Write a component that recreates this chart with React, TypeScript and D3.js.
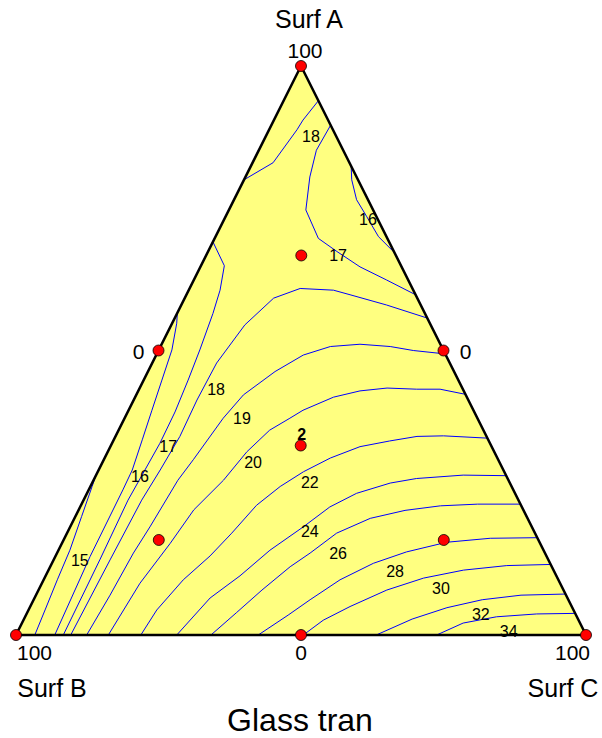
import React, { useEffect, useRef } from 'react';
import * as d3 from 'd3';

// Mixture components: A (top), B (bottom left), C (bottom right).
// Contour points are [A %, C %]; B = 100 - A - C.
const contour15 = [[28.1, 0], [26.1, 0.3], [20.8, 1.1], [14.9, 2.0], [9.7, 2.4], [4.4, 2.9], [0, 3.3]];
const contour16Loop = [[82.4, 17.6], [80.0, 18.9], [76.5, 21.5], [73.5, 24.8], [70.0, 28.6], [67.2, 32.8]];
const contour16Left = [[56.6, 0], [54.8, 0.8], [50.1, 2.3], [44.8, 3.2], [39.5, 4.1], [34.3, 5.0], [29.0, 5.9], [25.5, 6.0], [13.8, 6.1], [0, 6.8]];
const contour17Top = [[89.6, 10.4], [85.2, 10.1], [80.5, 11.3], [74.7, 13.5], [69.7, 18.2], [67.4, 22.6], [64.7, 28.0], [62.4, 33.8], [59.8, 40.2]];
const contour17Left = [[69.1, 0], [64.9, 4.1], [60.6, 5.5], [56.5, 6.3], [50.1, 7.2], [44.8, 7.8], [39.2, 8.3], [33.7, 8.4], [23.7, 7.8], [13.2, 8.1], [0, 8.3]];
const contour18Top = [[93.9, 6.1], [90.5, 5.1], [88.8, 4.9], [83.0, 3.6], [80.0, 0]];
const contour18Low = [[55.7, 44.3], [58.0, 36.0], [59.8, 28.7], [60.6, 25.4], [60.9, 19.4], [59.2, 15.6], [54.5, 12.9], [47.8, 11.3], [41.3, 11.1], [34.9, 11.3], [29.0, 10.8], [23.7, 10.2], [13.2, 9.9], [0, 9.6]];
const contour19 = [[49.4, 50.6], [50.0, 44.7], [50.7, 40.3], [51.1, 34.8], [50.7, 29.8], [49.2, 25.8], [46.3, 22.3], [42.2, 18.8], [38.1, 17.3], [30.8, 15.7], [27.2, 14.8], [19.0, 14.0], [14.4, 13.4], [7.0, 13.0], [0, 12.4]];
const contour20 = [[42.3, 57.7], [43.2, 52.8], [43.2, 48.7], [43.4, 43.4], [42.9, 38.9], [41.8, 34.8], [39.5, 30.6], [38.1, 29.0], [36.0, 26.5], [32.2, 24.4], [27.2, 22.8], [22.0, 20.2], [16.1, 19.0], [9.1, 17.2], [0, 16.2]];
const contour22 = [[34.6, 65.4], [35.0, 57.5], [34.9, 52.9], [34.1, 48.5], [33.1, 43.8], [31.1, 39.6], [28.7, 36.1], [26.1, 33.3], [22.8, 30.8], [17.9, 28.9], [13.9, 27.1], [9.7, 24.5], [4.4, 22.5], [0, 21.9]];
const contour24 = [[28.0, 72.0], [28.1, 64.4], [27.5, 56.5], [26.7, 52.3], [24.9, 47.3], [22.5, 43.8], [19.0, 40.9], [14.9, 37.1], [10.4, 34.1], [6.5, 30.8], [0, 28.2]];
const contour26 = [[23.0, 77.0], [23.0, 69.5], [22.7, 63.1], [21.9, 57.3], [20.5, 51.9], [17.9, 47.3], [14.4, 44.4], [12.0, 42.1], [7.9, 39.2], [3.9, 36.7], [0, 34.2]];
const contour28 = [[17.1, 82.9], [17.0, 74.7], [16.3, 67.4], [14.6, 61.2], [12.6, 56.4], [9.7, 52.0], [6.2, 48.5], [3.5, 46.0], [0, 42.5]];
const contour30 = [[12.4, 87.6], [12.2, 80.0], [11.4, 72.8], [10.0, 66.5], [7.9, 61.1], [5.0, 56.1], [2.6, 52.6], [0, 50.4]];
const contour32 = [[7.2, 92.8], [7.0, 85.1], [6.2, 78.7], [4.8, 73.2], [2.8, 68.1], [0, 63.2]];
const contour34 = [[3.8, 96.2], [3.7, 89.5], [3.2, 82.7], [2.1, 77.4], [0, 73.8]];

const contourLines = [
  contour15, contour16Loop, contour16Left, contour17Top, contour17Left,
  contour18Top, contour18Low, contour19, contour20, contour22,
  contour24, contour26, contour28, contour30, contour32, contour34,
];

// contour labels and where they sit, [A %, C %]
const labelValues = ['18', '16', '17', '18', '19', '17', '16', '20', '15', '22', '24', '26', '28', '30', '32', '34'];
const labelAt = [
  [87.7, 7.9], [73.1, 25.2], [66.8, 23.1], [43.2, 13.5], [38.1, 20.6], [33.2, 10.1],
  [27.9, 7.8], [30.4, 26.4], [13.2, 4.6], [26.9, 38.1], [18.3, 42.4], [14.4, 49.3],
  [11.2, 60.9], [8.3, 70.4], [3.7, 79.7], [0.7, 86.1],
];

// design points [A, B, C] %
const designPoints = [
  [100, 0, 0], [0, 100, 0], [0, 0, 100],
  [50, 50, 0], [50, 0, 50], [0, 50, 50],
  [33.3, 33.3, 33.3],
  [66.7, 16.7, 16.7], [16.7, 66.7, 16.7], [16.7, 16.7, 66.7],
];
const replicateLabel = '2';

const componentNames = ['Surf A', 'Surf B', 'Surf C'];
const vertexTick = '100';
const midTick = '0';
const title = 'Glass tran';

const FONT = '"Liberation Sans", Arial, sans-serif';

const App = () => {
  const ref = useRef<SVGSVGElement>(null);

  useEffect(() => {
    const svg = d3.select(ref.current);
    svg.selectAll('*').remove();

    // base position (C + A/2) and height (A)
    const x = d3.scaleLinear().domain([0, 100]).range([16, 586]);
    const y = d3.scaleLinear().domain([0, 100]).range([635, 66]);
    const px = (a: number, c: number) => x(c + a / 2);
    const py = (a: number) => y(a);

    const corners = [[100, 0], [0, 0], [0, 100]];
    const tri = d3.line<number[]>().x(d => px(d[0], d[1])).y(d => py(d[0]));

    svg.append('path')
      .attr('d', tri(corners) + 'Z')
      .attr('fill', '#ffff80');

    // contours
    const line = d3.line<number[]>()
      .x(d => px(d[0], d[1]))
      .y(d => py(d[0]));

    svg.append('g')
      .selectAll('path')
      .data(contourLines)
      .enter().append('path')
      .attr('d', d => line(d))
      .attr('fill', 'none')
      .attr('stroke', '#0000ff')
      .attr('stroke-width', 1);

    svg.append('path')
      .attr('d', tri(corners) + 'Z')
      .attr('fill', 'none')
      .attr('stroke', '#000')
      .attr('stroke-width', 2.5)
      .attr('stroke-linejoin', 'miter');

    // contour labels
    svg.append('g')
      .selectAll('text')
      .data(labelValues)
      .enter().append('text')
      .attr('x', (d, i) => px(labelAt[i][0], labelAt[i][1]))
      .attr('y', (d, i) => py(labelAt[i][0]))
      .attr('dy', '0.36em')
      .attr('text-anchor', 'middle')
      .attr('font-family', FONT)
      .attr('font-size', 16)
      .attr('fill', '#000')
      .text(d => d);

    // design points
    svg.append('g')
      .selectAll('circle')
      .data(designPoints)
      .enter().append('circle')
      .attr('cx', d => px(d[0], d[2]))
      .attr('cy', d => py(d[0]))
      .attr('r', 5.5)
      .attr('fill', '#ff0000')
      .attr('stroke', '#000')
      .attr('stroke-width', 0.8);

    const centroid = designPoints[6];
    svg.append('text')
      .attr('x', px(centroid[0], centroid[2]) + 1)
      .attr('y', py(centroid[0]) - 6)
      .attr('text-anchor', 'middle')
      .attr('font-family', FONT)
      .attr('font-size', 16)
      .attr('font-weight', 'bold')
      .text(replicateLabel);

    // axis text
    const text = (tx: number, ty: number, s: string, size: number) =>
      svg.append('text')
        .attr('x', tx)
        .attr('y', ty)
        .attr('text-anchor', 'middle')
        .attr('font-family', FONT)
        .attr('font-size', size)
        .attr('fill', '#000')
        .text(s);

    const aTop = [px(100, 0), py(100)];
    const bCorner = [px(0, 0), py(0)];
    const cCorner = [px(0, 100), py(0)];

    text(aTop[0] + 8, aTop[1] - 38.5, componentNames[0], 25);
    text(aTop[0] + 4, aTop[1] - 8.5, vertexTick, 21);

    text(px(50, 0) - 20, py(50) + 8, midTick, 21);
    text(px(50, 50) + 22, py(50) + 8, midTick, 21);

    text(bCorner[0] + 18.5, bCorner[1] + 25, vertexTick, 21);
    text(px(0, 50), bCorner[1] + 25, midTick, 21);
    text(cCorner[0] - 13.5, cCorner[1] + 25, vertexTick, 21);

    text(bCorner[0] + 36, bCorner[1] + 62, componentNames[1], 25);
    text(cCorner[0] - 23, cCorner[1] + 62, componentNames[2], 25);

    text(300, 731, title, 32);
  }, []);

  return (
    <svg
      ref={ref}
      width={602}
      height={738}
      style={{ position: 'absolute', left: 0, top: 0, background: '#fff' }}
    />
  );
};

export default App;
